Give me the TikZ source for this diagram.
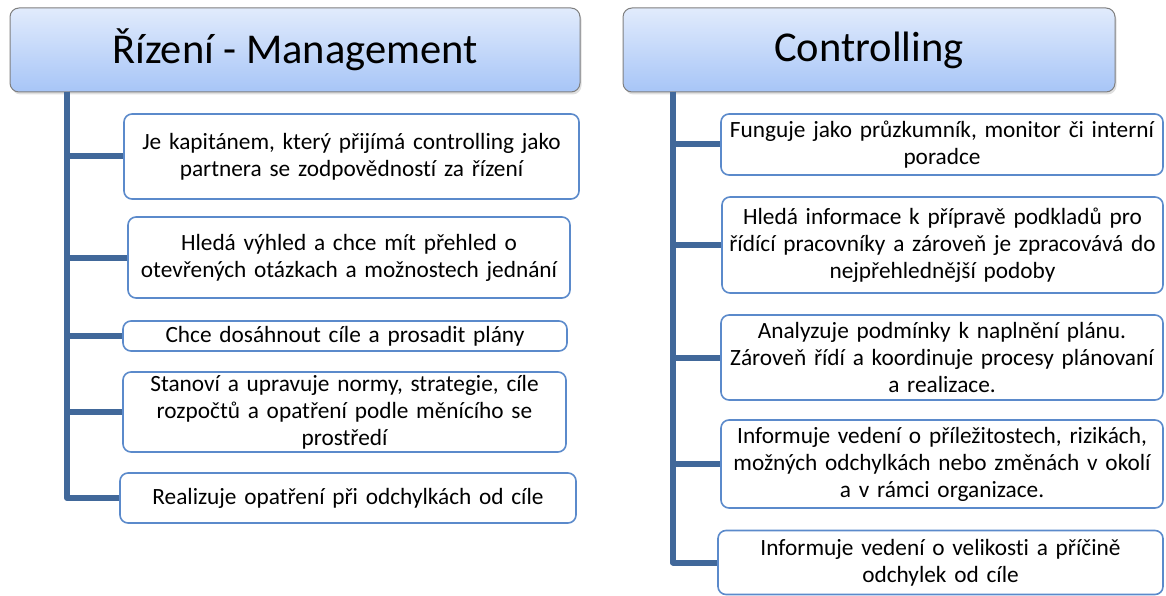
\documentclass[tikz,border=0pt]{standalone}
\usepackage{fontspec}
\setmainfont{Carlito}[Ligatures=NoCommon]
\usepackage{tikz}
\usetikzlibrary{shadows}
\definecolor{headtop}{HTML}{E1EBFC}
\definecolor{headbot}{HTML}{A7C5F7}
\definecolor{headline}{HTML}{7F7F7F}
\definecolor{boxline}{HTML}{5B8ACB}
\definecolor{trunkcol}{HTML}{41689A}
\tikzstyle{head} = [rectangle, draw=headline, line width=1pt,
    rounded corners=9pt, top color=headtop, bottom color=headbot,
    drop shadow={opacity=0.25, shadow xshift=1.5pt, shadow yshift=-2.5pt},
    font=\fontsize{42.5}{50}\selectfont, inner sep=0pt]
\tikzstyle{item} = [rectangle, draw=boxline, line width=1.6pt, fill=white,
    rounded corners=8pt, align=center, inner sep=2pt,
    font=\fontsize{23.3}{27}\selectfont]
\tikzstyle{line} = [draw=trunkcol, line width=6pt, line join=round]

\begin{document}
\begin{tikzpicture}[x=1pt, y=-1pt]
                \useasboundingbox (0,0) rectangle (1166,596);
                % Rizeni
                \node [head, minimum width=570pt, minimum height=84pt] at (295,50) (lhead) {Řízení - Management};
                \node [item, minimum width=455pt, minimum height=85pt, text width=451pt] at (351.5,156.5) (l1) {Je kapitánem, který přijímá controlling jako\\ partnera se zodpovědností za řízení};
                \node [item, minimum width=442pt, minimum height=81pt, text width=438pt] at (349,257.5) (l2) {Hledá výhled a chce mít přehled o\\ otevřených otázkach a možnostech jednání};
                \node [item, minimum width=444pt, minimum height=30pt, text width=440pt, inner sep=0pt] at (345,336) (l3) {Chce dosáhnout cíle a prosadit plány};
                \node [item, minimum width=443pt, minimum height=80pt, text width=439pt] at (344.5,412) (l4) {Stanoví a upravuje normy, strategie, cíle\\ rozpočtů a opatření podle měnícího se\\ prostředí};
                \node [item, minimum width=456pt, minimum height=50pt, text width=452pt] at (348,498) (l5) {Realizuje opatření při odchylkách od cíle};
                % Controlling
                \node [head, minimum width=492pt, minimum height=84pt] at (869,50) (rhead) {Controlling};
                \node [item, minimum width=442pt, minimum height=61pt, text width=438pt] at (942,144.5) (r1) {Funguje jako průzkumník, monitor či interní\\ poradce};
                \node [item, minimum width=441pt, minimum height=96pt, text width=437pt] at (942.5,245) (r2) {Hledá informace k přípravě podkladů pro\\ řídící pracovníky a zároveň je zpracovává do\\ nejpřehlednější podoby};
                \node [item, minimum width=442pt, minimum height=85pt, text width=438pt] at (942,357.5) (r3) {Analyzuje podmínky k naplnění plánu.\\ Zároveň řídí a koordinuje procesy plánovaní\\ a realizace.};
                \node [item, minimum width=442pt, minimum height=88pt, text width=438pt] at (942,464) (r4) {Informuje vedení o příležitostech, rizikách,\\ možných odchylkách nebo změnách v okolí\\ a v rámci organizace.};
                \node [item, minimum width=445pt, minimum height=64pt, text width=441pt] at (940.5,562.5) (r5) {Informuje vedení o velikosti a příčině\\ odchylek od cíle};
                % connectors
                \coordinate (ltop) at (67,92);
                \coordinate (rtop) at (673,92);
                \foreach \n in {l1,l2,l3,l4,l5}
                    \path [line] (ltop) |- (\n.west);
                \foreach \n in {r1,r2,r3,r4,r5}
                    \path [line] (rtop) |- (\n.west);
            \end{tikzpicture}
\end{document}
